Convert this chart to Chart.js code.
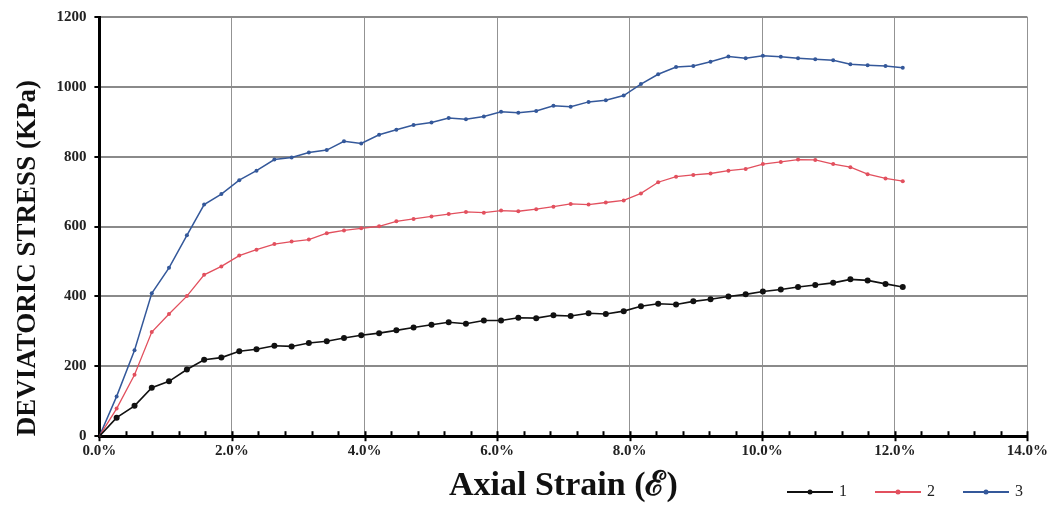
<!DOCTYPE html>
<html>
<head>
<meta charset="utf-8">
<script src="https://cdn.jsdelivr.net/npm/chart.js@4.4.1/dist/chart.umd.min.js"></script>
<style>
  html, body { margin: 0; padding: 0; background: #fff; }
  #wrap { width: 1054px; height: 508px; position: relative; }
</style>
</head>
<body>
<div id="wrap"><canvas id="stressChart"></canvas></div>
<script>
// --- Data ---
// axial strain (%) of each reading, same for the three tests
const strain = [0, 0.26, 0.53, 0.79, 1.05, 1.32, 1.58, 1.84, 2.11, 2.37, 2.64, 2.90, 3.16, 3.43, 3.69, 3.95,
  4.22, 4.48, 4.74, 5.01, 5.27, 5.53, 5.80, 6.06, 6.32, 6.59, 6.85, 7.11, 7.38, 7.64, 7.91, 8.17,
  8.43, 8.70, 8.96, 9.22, 9.49, 9.75, 10.01, 10.28, 10.54, 10.80, 11.07, 11.33, 11.59, 11.86, 12.12];

// deviatoric stress (KPa)
const stress1 = [0, 53, 87, 139, 157, 191, 219, 225, 243, 249, 259, 257, 267, 272, 281, 289,
  295, 303, 311, 319, 326, 322, 331, 331, 339, 338, 346, 344, 352, 350, 358, 372,
  379, 377, 386, 392, 400, 406, 414, 420, 427, 433, 439, 449, 446, 436, 427];
const stress2 = [0, 79, 176, 298, 350, 401, 462, 486, 517, 534, 550, 557, 563, 581, 589, 595,
  601, 615, 622, 629, 636, 642, 640, 646, 644, 650, 657, 665, 663, 669, 675, 695,
  727, 743, 748, 752, 760, 765, 779, 785, 792, 791, 779, 770, 750, 738, 730];
const stress3 = [0, 114, 246, 409, 482, 575, 663, 693, 733, 760, 792, 798, 812, 819, 844, 838,
  863, 877, 891, 898, 911, 907, 915, 929, 926, 931, 946, 943, 957, 962, 975, 1008,
  1036, 1057, 1060, 1072, 1087, 1082, 1089, 1086, 1082, 1079, 1076, 1065, 1062, 1060, 1055];

const seriesNames = ['1', '2', '3'];
const seriesColors = ['#111111', '#e2505e', '#34589a'];

const serif = "'Liberation Serif', 'Times New Roman', serif";

function toPoints(ys) {
  return ys.map((y, i) => ({ x: strain[i], y: y }));
}

const isMajor = v => Math.round(v * 10) % 20 === 0;

// ticks on the strain axis: majors cross the axis, minors point up into the plot
const axisMarks = {
  id: 'axisMarks',
  beforeDatasetsDraw(chart) {
    const ctx = chart.ctx;
    const xs = chart.scales.x;
    const y0 = chart.chartArea.bottom;
    ctx.save();
    ctx.strokeStyle = '#000';
    ctx.lineWidth = 2;
    xs.ticks.forEach(t => {
      const px = Math.round(xs.getPixelForValue(t.value)) + 0.5;
      ctx.beginPath();
      if (isMajor(t.value)) {
        ctx.moveTo(px, y0 - 5);
        ctx.lineTo(px, y0 + 5);
      } else {
        ctx.moveTo(px, y0 - 5);
        ctx.lineTo(px, y0);
      }
      ctx.stroke();
    });
    ctx.restore();
  }
};

// legend drawn in the bottom right corner
const cornerLegend = {
  id: 'cornerLegend',
  afterDraw(chart) {
    const ctx = chart.ctx;
    const yLine = 492;
    ctx.save();
    chart.data.datasets.forEach((ds, i) => {
      const x0 = 787 + i * 88;
      ctx.strokeStyle = ds.borderColor;
      ctx.lineWidth = 2;
      ctx.beginPath();
      ctx.moveTo(x0, yLine);
      ctx.lineTo(x0 + 46, yLine);
      ctx.stroke();
      ctx.fillStyle = ds.pointBackgroundColor;
      ctx.beginPath();
      ctx.arc(x0 + 23, yLine, 2.5, 0, Math.PI * 2);
      ctx.fill();
      ctx.fillStyle = '#222';
      ctx.font = '16px ' + serif;
      ctx.textBaseline = 'middle';
      ctx.fillText(ds.label, x0 + 52, yLine);
    });
    ctx.restore();
  }
};

const radii = [3, 2, 2];
const widths = [1.6, 1.3, 1.5];

new Chart(document.getElementById('stressChart'), {
  type: 'line',
  data: {
    datasets: [stress1, stress2, stress3].map((s, i) => ({
      label: seriesNames[i],
      data: toPoints(s),
      borderColor: seriesColors[i],
      backgroundColor: seriesColors[i],
      pointBackgroundColor: seriesColors[i],
      pointBorderColor: seriesColors[i],
      pointRadius: radii[i],
      pointBorderWidth: 0,
      borderWidth: widths[i],
      tension: 0,
      fill: false
    }))
  },
  options: {
    responsive: true,
    maintainAspectRatio: false,
    animation: false,
    layout: { padding: { top: 12, right: 12, left: 12, bottom: 1 } },
    plugins: {
      legend: { display: false },
      tooltip: { enabled: false }
    },
    scales: {
      x: {
        type: 'linear',
        min: 0,
        max: 14,
        border: { color: '#000', width: 3 },
        grid: {
          drawTicks: false,
          lineWidth: 1,
          color: c => (c.tick && isMajor(c.tick.value) ? '#939393' : 'rgba(0,0,0,0)')
        },
        ticks: {
          stepSize: 0.4,
          autoSkip: false,
          maxRotation: 0,
          padding: 6,
          color: '#222',
          font: { family: serif, size: 15, weight: 'bold' },
          callback: v => (isMajor(v) ? v.toFixed(1) + '%' : '')
        },
        title: {
          display: true,
          text: 'Axial Strain (\u2130)',
          color: '#111',
          font: { family: serif, size: 34, weight: 'bold' },
          padding: { top: 0, bottom: 0 }
        }
      },
      y: {
        min: 0,
        max: 1200,
        border: { color: '#000', width: 3 },
        grid: {
          color: '#8a8a8a',
          lineWidth: 2,
          tickColor: '#000',
          tickLength: 5
        },
        ticks: {
          stepSize: 200,
          padding: 8,
          color: '#222',
          font: { family: serif, size: 15, weight: 'bold' },
          callback: v => String(v)
        },
        title: {
          display: true,
          text: 'DEVIATORIC STRESS (KPa)',
          align: 'start',
          color: '#111',
          font: { family: serif, size: 27, weight: 'bold' },
          padding: { top: 0, bottom: 4 }
        }
      }
    }
  },
  plugins: [axisMarks, cornerLegend]
});
</script>
</body>
</html>
